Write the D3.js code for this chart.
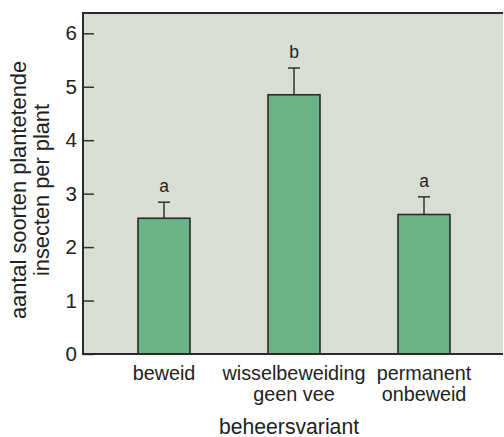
<!DOCTYPE html>
<html><head><meta charset="utf-8">
<script src="https://cdn.jsdelivr.net/npm/d3@7"></script>
<style>html,body{margin:0;padding:0;background:#fff;}svg{display:block;}</style>
</head><body>
<script>
const categories = ["beweid", "wisselbeweiding|geen vee", "permanent|onbeweid"];
const means = [2.54, 4.85, 2.61];
const errTops = [2.84, 5.35, 2.94];
const groups = ["a", "b", "a"];
const yTicks = [0, 1, 2, 3, 4, 5, 6];
const yMax = 6.38;
const yTitle = ["aantal soorten plantetende", "insecten per plant"];
const xTitle = "beheersvariant";

(function () {
const W = 504, H = 437;
const pL = 83, pR = 503, pT = 13, pB = 354;
const font = "'Liberation Sans', Arial, sans-serif";
const ink = "#222";

const svg = d3.select("body").append("svg").attr("width", W).attr("height", H);

const y = d3.scaleLinear().domain([0, yMax]).range([pB, pT]);
const x = d3.scaleBand().domain(categories).range([99, 489]).paddingInner(0.6).paddingOuter(0.3);

// plot background
svg.append("rect").attr("x", pL).attr("y", y(yMax)).attr("width", pR - pL).attr("height", y(0) - y(yMax))
  .attr("fill", "#d9ded4");

// bars
const data = categories.map((c, i) => ({c, m: means[i], e: errTops[i], g: groups[i]}));
svg.selectAll("line.err").data(data).join("line").attr("class", "err")
  .attr("x1", d => x(d.c) + x.bandwidth() / 2).attr("x2", d => x(d.c) + x.bandwidth() / 2)
  .attr("y1", d => y(d.m)).attr("y2", d => y(d.e))
  .attr("stroke", "#333").attr("stroke-width", 1.5);
svg.selectAll("line.cap").data(data).join("line").attr("class", "cap")
  .attr("x1", d => x(d.c) + x.bandwidth() / 2 - 6).attr("x2", d => x(d.c) + x.bandwidth() / 2 + 6)
  .attr("y1", d => y(d.e)).attr("y2", d => y(d.e))
  .attr("stroke", "#333").attr("stroke-width", 1.5);
svg.selectAll("rect.bar").data(data).join("rect").attr("class", "bar")
  .attr("x", d => x(d.c)).attr("width", x.bandwidth())
  .attr("y", d => y(d.m)).attr("height", d => y(0) - y(d.m))
  .attr("fill", "#6bb287").attr("stroke", "#2a2a2a").attr("stroke-width", 1.6);
svg.selectAll("text.grp").data(data).join("text").attr("class", "grp")
  .attr("x", d => x(d.c) + x.bandwidth() / 2).attr("y", d => y(d.e) - 10)
  .attr("text-anchor", "middle").attr("font-family", font).attr("font-size", 17.5).attr("fill", ink)
  .text(d => d.g);

// y axis
const yAxis = svg.append("g").attr("transform", `translate(${pL},0)`)
  .call(d3.axisLeft(y).tickValues(yTicks).tickFormat(d3.format("d")).tickSizeInner(-11).tickSizeOuter(0).tickPadding(6));
yAxis.select(".domain").remove();
yAxis.selectAll(".tick line").attr("stroke", "#333").attr("stroke-width", 1.5);
yAxis.selectAll(".tick text").attr("font-family", font).attr("font-size", 20.5).attr("fill", ink);

// frame lines
svg.append("line").attr("x1", pL).attr("x2", pR).attr("y1", y(yMax)).attr("y2", y(yMax)).attr("stroke", "#2a2a2a").attr("stroke-width", 2);
svg.append("line").attr("x1", pL).attr("x2", pR).attr("y1", y(0)).attr("y2", y(0)).attr("stroke", "#2a2a2a").attr("stroke-width", 2);
svg.append("line").attr("x1", pL).attr("x2", pL).attr("y1", y(yMax) - 1).attr("y2", y(0) + 1).attr("stroke", "#2a2a2a").attr("stroke-width", 2);

// x labels
const xl = svg.append("g");
categories.forEach(c => {
  const lines = c.split("|");
  const t = xl.append("text").attr("x", x(c) + x.bandwidth() / 2).attr("y", 380)
    .attr("text-anchor", "middle").attr("font-family", font).attr("font-size", 19.8).attr("fill", ink);
  lines.forEach((l, i) => t.append("tspan").attr("x", x(c) + x.bandwidth() / 2).attr("dy", i === 0 ? 0 : 21).text(l));
});
svg.append("text").attr("x", 289).attr("y", 434)
  .attr("text-anchor", "middle").attr("font-family", font).attr("font-size", 21.2).attr("fill", ink).text(xTitle);

// y title
const yt = svg.append("text").attr("transform", `translate(0,190) rotate(-90)`)
  .attr("text-anchor", "middle").attr("font-family", font).attr("font-size", 21.8).attr("fill", ink);
yTitle.forEach((l, i) => yt.append("tspan").attr("x", 0).attr("y", 26 + i * 22.5).text(l));
})();
</script>
</body></html>
